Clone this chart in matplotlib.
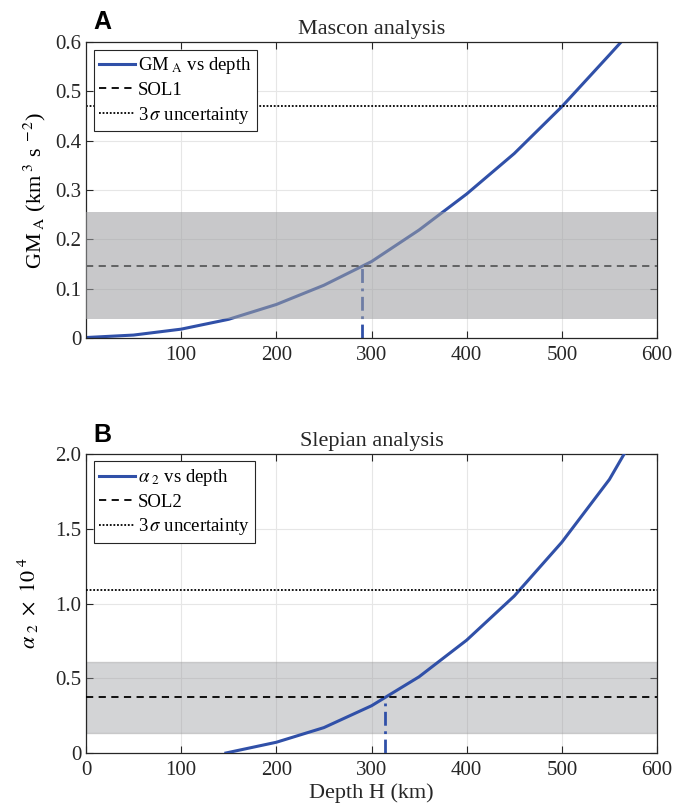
import numpy as np
import matplotlib.pyplot as plt

plt.rcParams['font.family'] = ['Liberation Serif', 'DejaVu Serif']
plt.rcParams['mathtext.fontset'] = 'stix'

# --- Panel A: mascon analysis ---
depth_a = [0, 50, 100, 150, 200, 250, 300, 350, 400, 450, 500, 550, 600]
gm_a = [0.001, 0.006, 0.018, 0.038, 0.068, 0.107, 0.155, 0.219, 0.292, 0.374, 0.469, 0.574, 0.68]
sol1 = 0.147
sol1_band = (0.039, 0.255)
sol1_3sigma = 0.471
sol1_depth = 290

# --- Panel B: Slepian analysis ---
depth_b = [147, 200, 250, 300, 350, 400, 450, 500, 550, 600]
alpha2 = [0.0, 0.072, 0.17, 0.316, 0.51, 0.755, 1.05, 1.41, 1.83, 2.38]
sol2 = 0.373
sol2_band = (0.132, 0.612)
sol2_3sigma = 1.09
sol2_depth = 314

BLUE = '#3050a8'
TICK_FS = 15
LAB_FS = 16
LEG_FS = 13.5
PANEL_FONT = ['Liberation Sans Narrow', 'Liberation Sans', 'DejaVu Sans']

fig = plt.figure(figsize=(6.74, 8.11), dpi=100)
ax1 = fig.add_axes([0.1276, 0.5832, 0.8472, 0.365])
ax2 = fig.add_axes([0.1276, 0.0715, 0.8472, 0.3687])


def style(ax):
    ax.grid(True, color='#e6e6e6', linewidth=0.8)
    ax.set_axisbelow(True)
    ax.tick_params(direction='in', top=True, right=True, labelsize=TICK_FS,
                   length=5, width=0.8, colors='#262626', labelcolor='#262626')
    ax.tick_params(axis='x', pad=6)
    for s in ax.spines.values():
        s.set_color('#262626')
        s.set_linewidth(0.9)


def add_legend(ax, handles):
    leg = ax.legend(handles=handles, loc='upper left', fontsize=LEG_FS, frameon=True,
                    fancybox=False, edgecolor='#262626', framealpha=1, handlelength=1.9,
                    handletextpad=0.15, borderpad=0.3, labelspacing=0.3, borderaxespad=0.4)
    leg.get_frame().set_linewidth(0.8)


# Panel A
ax = ax1
style(ax)
l1, = ax.plot(depth_a, gm_a, color=BLUE, lw=2.2, zorder=2, label=r'GM$_{\rm\ A}$ vs depth')
l2, = ax.plot([0, 600], [sol1, sol1], color='black', ls=(0, (4, 3)), lw=1.3, zorder=2, label='SOL1')
l3, = ax.plot([0, 600], [sol1_3sigma, sol1_3sigma], color='black', ls=(0, (1, 1)), lw=1.3,
              zorder=2, label=r'3$\,\sigma$ uncertainty')
ax.plot([sol1_depth, sol1_depth], [0, sol1], color=BLUE, ls=(0, (5, 2, 1, 2)), lw=2.0, zorder=2)
ax.axhspan(sol1_band[0], sol1_band[1], color=(158/255, 159/255, 162/255), alpha=0.565, lw=0, zorder=3)
ax.set_xlim(0, 600)
ax.set_ylim(0, 0.6)
ax.set_xticks([100, 200, 300, 400, 500, 600])
ax.set_yticks([0, 0.1, 0.2, 0.3, 0.4, 0.5, 0.6])
ax.set_yticklabels(['0', '0.1', '0.2', '0.3', '0.4', '0.5', '0.6'])
ax.set_ylabel(r'GM$_{\rm\ A}$ (km$^{\ 3}$ s$^{\rm\ -2}$)', fontsize=LAB_FS, labelpad=5)
ax.set_title('Mascon analysis', fontsize=LAB_FS, pad=6, color='#262626')
add_legend(ax, [l1, l2, l3])
fig.text(0.139, 0.973, 'A', fontsize=18, fontweight='bold', family=PANEL_FONT, va='center')

# Panel B
ax = ax2
style(ax)
ax.axhspan(sol2_band[0], sol2_band[1], facecolor=(150/255, 152/255, 156/255), alpha=0.41,
           edgecolor='#9a9a9a', lw=1.0, zorder=1.5)
m1, = ax.plot(depth_b, alpha2, color=BLUE, lw=2.2, zorder=3, label=r'$\alpha_{\ 2}$ vs depth')
m2, = ax.plot([0, 600], [sol2, sol2], color='black', ls=(0, (4, 3)), lw=1.3, zorder=3, label='SOL2')
m3, = ax.plot([0, 600], [sol2_3sigma, sol2_3sigma], color='black', ls=(0, (1, 1)), lw=1.3,
              zorder=3, label=r'3$\,\sigma$ uncertainty')
ax.plot([sol2_depth, sol2_depth], [0, sol2], color=BLUE, ls=(0, (5, 2, 1, 2)), lw=2.0, zorder=3)
ax.set_xlim(0, 600)
ax.set_ylim(0, 2.0)
ax.set_xticks([0, 100, 200, 300, 400, 500, 600])
ax.set_yticks([0, 0.5, 1.0, 1.5, 2.0])
ax.set_yticklabels(['0', '0.5', '1.0', '1.5', '2.0'])
ax.set_ylabel(r'$\alpha_{\ 2}\ \times\ 10^{\ 4}$', fontsize=LAB_FS, labelpad=10)
ax.set_xlabel('Depth H (km)', fontsize=LAB_FS, labelpad=2, color='#262626')
ax.set_title('Slepian analysis', fontsize=LAB_FS, pad=6, color='#262626')
add_legend(ax, [m1, m2, m3])
fig.text(0.139, 0.464, 'B', fontsize=18, fontweight='bold', family=PANEL_FONT, va='center')

fig.savefig('out.png', dpi=100)
